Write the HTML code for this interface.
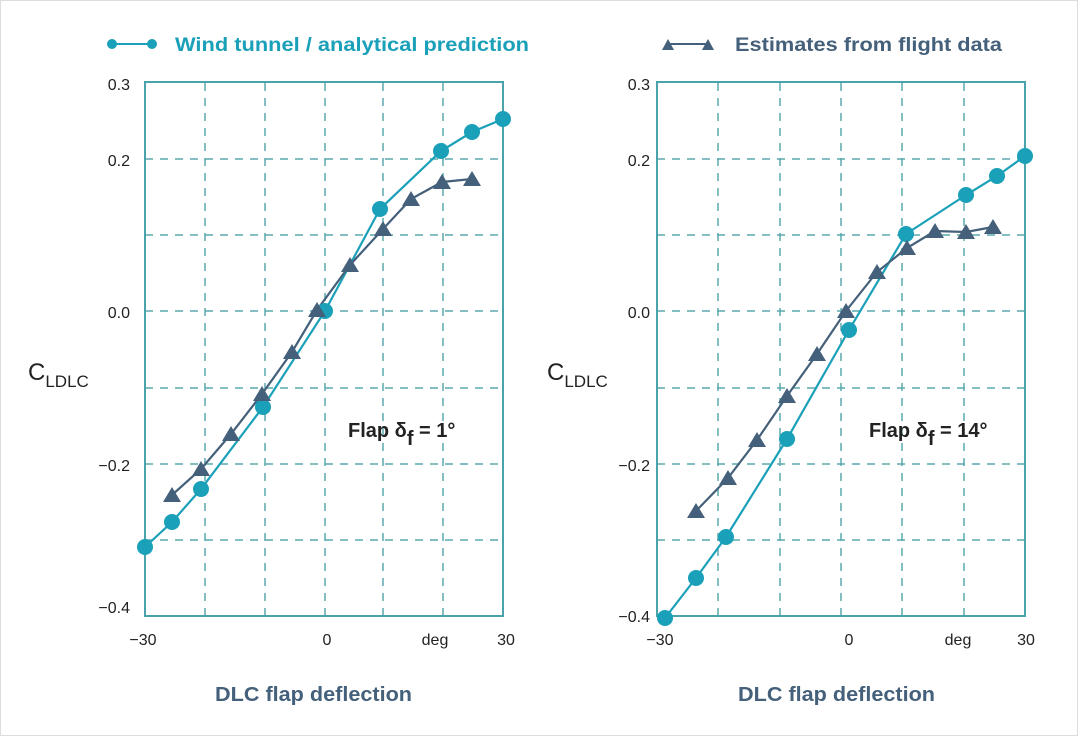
<!DOCTYPE html><html><head><style>body{margin:0;background:#fff}svg{display:block;font-family:"Liberation Sans",Arial,sans-serif}</style></head><body>
<svg width="1080" height="744" viewBox="0 0 1080 744">
<rect x="0.5" y="0.5" width="1077" height="735" fill="#fff" stroke="#ddd"/>
<g stroke="#5aa8ad" stroke-width="1.5" stroke-dasharray="8,7" fill="none">
<path d="M205 83V616M265 83V616M325 83V616M383 83V616M443 83V616M145 159H503M145 235H503M145 311H503M145 388H503M145 464H503M145 540H503"/>
<path d="M718 83V616M780 83V616M841 83V616M902 83V616M964 83V616M657 159H1025M657 235H1025M657 311H1025M657 388H1025M657 464H1025M657 540H1025"/>
</g>
<g stroke="#4aa3aa" stroke-width="2" fill="none"><rect x="145" y="82" width="358" height="534"/><rect x="657" y="82" width="368" height="534"/></g>
<g font-size="16" fill="#222" text-anchor="end"><text x="130" y="90">0.3</text><text x="130" y="166">0.2</text><text x="130" y="318">0.0</text><text x="130" y="471">−0.2</text><text x="130" y="613">−0.4</text>
<text x="650" y="90">0.3</text><text x="650" y="166">0.2</text><text x="650" y="318">0.0</text><text x="650" y="471">−0.2</text><text x="650" y="622">−0.4</text></g>
<g font-size="16" fill="#222" text-anchor="middle"><text x="143" y="645">−30</text><text x="327" y="645">0</text><text x="435" y="645">deg</text><text x="506" y="645">30</text>
<text x="660" y="645">−30</text><text x="849" y="645">0</text><text x="958" y="645">deg</text><text x="1026" y="645">30</text></g>
<g font-size="20" font-weight="bold" fill="#44607a"><text x="215" y="701" textLength="197" lengthAdjust="spacingAndGlyphs">DLC flap deflection</text><text x="738" y="701" textLength="197" lengthAdjust="spacingAndGlyphs">DLC flap deflection</text></g>
<g font-size="24" fill="#222"><text x="28" y="380">C<tspan font-size="17" dy="7">LDLC</tspan></text><text x="547" y="380">C<tspan font-size="17" dy="7">LDLC</tspan></text></g>
<g font-size="20" font-weight="bold" fill="#222"><text x="348" y="437">Flap δ<tspan font-size="20" dy="8">f</tspan><tspan dy="-8"> = 1°</tspan></text><text x="869" y="437">Flap δ<tspan dy="8">f</tspan><tspan dy="-8"> = 14°</tspan></text></g>
<g font-size="19" font-weight="bold"><text x="175" y="51" fill="#1aa0b8" textLength="354" lengthAdjust="spacingAndGlyphs">Wind tunnel / analytical prediction</text><text x="735" y="51" fill="#44607a" textLength="267" lengthAdjust="spacingAndGlyphs">Estimates from flight data</text></g>
<line x1="112" y1="44" x2="152" y2="44" stroke="#1aa0b8" stroke-width="2"/><circle cx="112" cy="44" r="5" fill="#1aa0b8"/><circle cx="152" cy="44" r="5" fill="#1aa0b8"/>
<line x1="668" y1="44" x2="708" y2="44" stroke="#44607a" stroke-width="2"/><path d="M662 50L668 39L674 50ZM702 50L708 39L714 50Z" fill="#44607a"/>
<g fill="none" stroke-width="2.2">
<polyline stroke="#1aa0b8" points="145,547 172,522 201,489 263,407 325,311 380,209 441,151 472,132 503,119"/>
<polyline stroke="#44607a" points="172,495 201,469 231,434 262,394 292,352 317,310 350,265 383,229 411,199 442,182 472,179"/>
<polyline stroke="#1aa0b8" points="665,618 696,578 726,537 787,439 849,330 906,234 966,195 997,176 1025,156"/>
<polyline stroke="#44607a" points="696,511 728,478 757,440 787,396 817,354 846,311 877,272 907,248 935,231 966,232 993,227"/>
</g>
<g fill="#1aa0b8">
<circle cx="145" cy="547" r="8"/><circle cx="172" cy="522" r="8"/><circle cx="201" cy="489" r="8"/><circle cx="263" cy="407" r="8"/><circle cx="325" cy="311" r="8"/><circle cx="380" cy="209" r="8"/><circle cx="441" cy="151" r="8"/><circle cx="472" cy="132" r="8"/><circle cx="503" cy="119" r="8"/>
<circle cx="665" cy="618" r="8"/><circle cx="696" cy="578" r="8"/><circle cx="726" cy="537" r="8"/><circle cx="787" cy="439" r="8"/><circle cx="849" cy="330" r="8"/><circle cx="906" cy="234" r="8"/><circle cx="966" cy="195" r="8"/><circle cx="997" cy="176" r="8"/><circle cx="1025" cy="156" r="8"/>
</g>
<g fill="#44607a">
<path d="M172 487l9 15h-18zM201 461l9 15h-18zM231 426l9 15h-18zM262 386l9 15h-18zM292 344l9 15h-18zM317 302l9 15h-18zM350 257l9 15h-18zM383 221l9 15h-18zM411 191l9 15h-18zM442 174l9 15h-18zM472 171l9 15h-18z"/>
<path d="M696 503l9 15h-18zM728 470l9 15h-18zM757 432l9 15h-18zM787 388l9 15h-18zM817 346l9 15h-18zM846 303l9 15h-18zM877 264l9 15h-18zM907 240l9 15h-18zM935 223l9 15h-18zM966 224l9 15h-18zM993 219l9 15h-18z"/>
</g>
</svg></body></html>
